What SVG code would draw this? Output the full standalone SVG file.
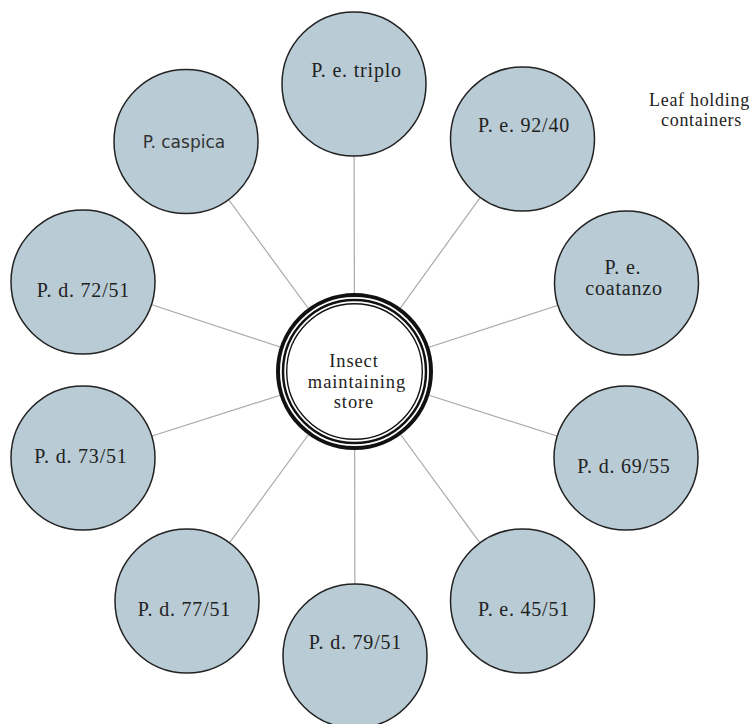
<svg xmlns="http://www.w3.org/2000/svg" width="754" height="724" viewBox="0 0 754 724">
<style>
.node{fill:#b9cbd5;stroke:#222;stroke-width:1.5}
.lbl{font-family:"Liberation Serif","Times New Roman",serif;font-size:20px;fill:#222;text-anchor:middle;letter-spacing:0.8px}
.sans{font-family:"DejaVu Sans",sans-serif;font-size:17px;fill:#333;text-anchor:middle}
.ctr{font-family:"Liberation Serif","Times New Roman",serif;font-size:18.5px;fill:#222;text-anchor:middle;letter-spacing:0.9px}
.note{font-family:"Liberation Serif","Times New Roman",serif;font-size:18px;fill:#222;letter-spacing:0.7px}
.ring{fill:none;stroke:#111}
</style>
<rect width="754" height="724" fill="#fff"/>
<g id="connectors" stroke="#aaa" stroke-width="1.2">
<line x1="354.5" y1="371.5" x2="354" y2="84"/>
<line x1="354.5" y1="371.5" x2="522.5" y2="139"/>
<line x1="354.5" y1="371.5" x2="626.5" y2="283"/>
<line x1="354.5" y1="371.5" x2="626" y2="458"/>
<line x1="354.5" y1="371.5" x2="522.5" y2="601"/>
<line x1="354.5" y1="371.5" x2="355" y2="656"/>
<line x1="354.5" y1="371.5" x2="187" y2="601"/>
<line x1="354.5" y1="371.5" x2="83" y2="458"/>
<line x1="354.5" y1="371.5" x2="83" y2="282"/>
<line x1="354.5" y1="371.5" x2="186" y2="141.5"/>
</g>
<g id="center">
<circle cx="354.5" cy="371.5" r="78" fill="#fff"/>
<circle class="ring" cx="354.5" cy="371.5" r="76.5" stroke-width="4"/>
<circle class="ring" cx="354.5" cy="371.5" r="71.5" stroke-width="2.5"/>
<circle class="ring" cx="354.5" cy="371.5" r="67.8" stroke-width="1.4"/>
<text class="ctr" x="354" y="367">Insect</text>
<text class="ctr" x="357" y="387.5">maintaining</text>
<text class="ctr" x="354" y="408">store</text>
</g>
<g id="n-triplo"><circle class="node" cx="354" cy="84" r="72"/><text class="lbl" x="356.5" y="77">P. e. triplo</text></g>
<g id="n-9240"><circle class="node" cx="522.5" cy="139" r="72"/><text class="lbl" x="524" y="132">P. e. 92/40</text></g>
<g id="n-coatanzo"><circle class="node" cx="626.5" cy="283" r="72"/><text class="lbl" x="623" y="274">P. e.</text><text class="lbl" x="624" y="295">coatanzo</text></g>
<g id="n-6955"><circle class="node" cx="626" cy="458" r="72"/><text class="lbl" x="624" y="473">P. d. 69/55</text></g>
<g id="n-4551"><circle class="node" cx="522.5" cy="601" r="72"/><text class="lbl" x="524" y="616">P. e. 45/51</text></g>
<g id="n-7951"><circle class="node" cx="355" cy="656" r="72"/><text class="lbl" x="355.5" y="649">P. d. 79/51</text></g>
<g id="n-7751"><circle class="node" cx="187" cy="601" r="72"/><text class="lbl" x="184.5" y="616">P. d. 77/51</text></g>
<g id="n-7351"><circle class="node" cx="83" cy="458" r="72"/><text class="lbl" x="81" y="463">P. d. 73/51</text></g>
<g id="n-7251"><circle class="node" cx="83" cy="282" r="72"/><text class="lbl" x="83.5" y="297">P. d. 72/51</text></g>
<g id="n-caspica"><circle class="node" cx="186" cy="141.5" r="72"/><text class="sans" x="184" y="148">P. caspica</text></g>
<g id="legend"><text class="note" x="649" y="106">Leaf holding</text><text class="note" x="661" y="126">containers</text></g>
</svg>
